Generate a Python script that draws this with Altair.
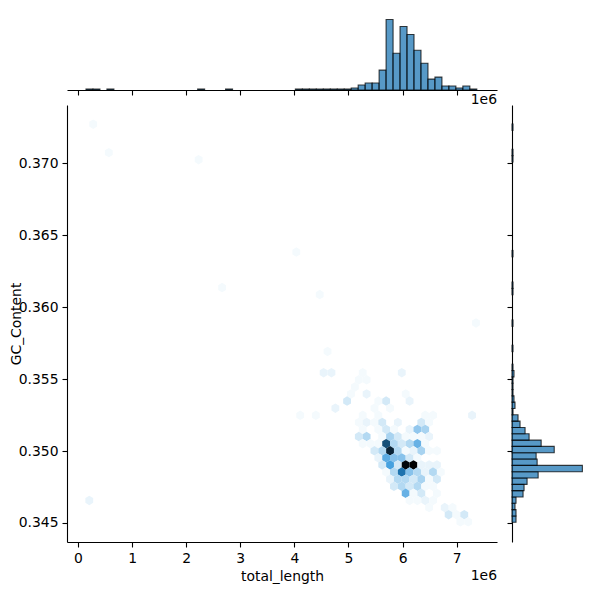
import colorsys
import altair as alt
import pandas as pd

# Hexbin cells: lattice column, lattice row, count
hex_col = [-10,-10.5,-9.5,-5.5,-0.5,-6,-5,-6.5,-7,-5,0,-7.5,-3.5,-2.5,0.5,-9,-4,-2,
           -5.5,-3.5,2.5,3.5,8.5,-6,-5,-4,-3,-1,2,3,
           -5.5,-3.5,-2.5,-1.5,0.5,1.5,2.5,
           -6,-5,-3,-2,-1,0,1,2,3,
           -5.5,-4.5,-3.5,-2.5,-1.5,-0.5,0.5,1.5,2.5,
           -4,-3,-2,-1,0,1,2,3,4,
           -3.5,-2.5,-1.5,-0.5,0.5,1.5,
           -3,-2,-1,0,1,2,3,4,
           -2.5,-1.5,-0.5,0.5,1.5,2.5,3.5,4.5,
           -2,-1,0,1,2,3,4,
           -1.5,-0.5,0.5,1.5,2.5,3.5,
           0,1,2,4,
           0.5,1.5,2.5,3.5,
           3,5,6,
           5.5,6.5,7.5,
           7,8,
           -40,-38,-26.5,-14,-23.5,-11,-40.5,9,-13.5,-11.5]
hex_row = [-16,-13,-13,-13,-13,-12,-12,-11,-10,-10,-10,-9,-9,-9,-9,-8,-8,-8,
           -7,-7,-7,-7,-7,-6,-6,-6,-6,-6,-6,-6,
           -5,-5,-5,-5,-5,-5,-5,
           -4,-4,-4,-4,-4,-4,-4,-4,-4,
           -3,-3,-3,-3,-3,-3,-3,-3,-3,
           -2,-2,-2,-2,-2,-2,-2,-2,-2,
           -1,-1,-1,-1,-1,-1,
           0,0,0,0,0,0,0,0,
           1,1,1,1,1,1,1,1,
           2,2,2,2,2,2,2,
           3,3,3,3,3,3,
           4,4,4,4,
           5,5,5,5,
           6,6,6,
           7,7,7,
           8,8,
           -48,-44,-43,-30,-25,-24,5,-20,-7,-7]
hex_count = [1,2,2,1,2,1,1,1,1,2,1,4,1,4,2,2,1,1,
             1,1,1,1,2,1,2,1,4,2,4,1,
             1,1,4,1,2,10,8,
             4,7,1,8,4,1,1,1,2,
             1,1,1,29,7,4,7,14,1,
             4,7,35,7,1,2,8,1,1,
             2,15,11,11,4,1,
             4,17,4,39,40,2,2,2,
             1,7,24,11,7,2,7,1,
             2,7,7,4,8,1,4,
             4,7,4,7,1,1,
             14,1,4,1,
             1,1,2,1,
             1,2,1,
             4,1,4,
             1,1,
             1,1,1,1,1,1,2,1,1,1]

# Marginal histograms: counts per bin, from the first bin upward
top_counts = [1,1,0,1,0,0,0,0,0,0,0,0,0,0,0,0,1,0,0,0,1,0,0,0,0,0,0,0,0,0,
              1,1,1,1,1,1,1,1,2,5,7,7,20,71,37,64,56,40,27,11,13,4,4,2,4,1]
right_counts = [4,4,3,4,11,12,15,26,70,25,24,42,29,17,13,8,6,1,3,2,1,1,1,2,1,0,0,1,
                0,0,0,1,0,0,0,0,1,1,0,0,0,0,1,0,0,0,0,0,0,0,0,0,0,0,0,0,0,1,1,0,0,0,1]

x_ticks = [0, 1, 2, 3, 4, 5, 6, 7]
y_ticks = [0.345, 0.350, 0.355, 0.360, 0.365, 0.370]

X_DOMAIN = [-0.203, 7.745]
Y_DOMAIN = [0.34368, 0.37403]

# Bin geometry
HEX_X0, HEX_DX, HEX_Y0, HEX_DY = 6.057, 0.1444, 0.34903, 0.000493
TOP_X0, TOP_W = 0.148, 0.129
RIGHT_Y0, RIGHT_W = 0.34505, 0.000439

hexes = pd.DataFrame({
    "x": [HEX_X0 + c * HEX_DX for c in hex_col],
    "y": [HEX_Y0 - r * HEX_DY for r in hex_row],
    "count": hex_count,
})
top_df = pd.DataFrame({
    "a": [TOP_X0 + i * TOP_W for i in range(len(top_counts))],
    "b": [TOP_X0 + (i + 1) * TOP_W for i in range(len(top_counts))],
    "n": top_counts, "zero": 0,
})
top_df = top_df[top_df.n > 0]
right_df = pd.DataFrame({
    "a": [RIGHT_Y0 + i * RIGHT_W for i in range(len(right_counts))],
    "b": [RIGHT_Y0 + (i + 1) * RIGHT_W for i in range(len(right_counts))],
    "n": right_counts, "zero": 0,
})
right_df = right_df[right_df.n > 0]

# Colormap: the hue of C0 with lightness running from 1 to 0
h, l, s = colorsys.rgb_to_hls(0x1f / 255, 0x77 / 255, 0xb4 / 255)
ramp = []
for k in range(12):
    r, g, b = colorsys.hls_to_rgb(h, 1 - k / 11, s)
    ramp.append("#%02x%02x%02x" % (round(r * 255), round(g * 255), round(b * 255)))
ramp_stops = [40 * k / 11 for k in range(12)]

HEX_PATH = "M0,-1L0.826,-0.5L0.826,0.5L0,1L-0.826,0.5L-0.826,-0.5Z"
FONT = "DejaVu Sans"
FS = 13.9
W, H, MT, MR = 430, 437, 75, 75

x_scale = alt.Scale(domain=X_DOMAIN, nice=False, zero=False)
y_scale = alt.Scale(domain=Y_DOMAIN, nice=False, zero=False)
axis_style = dict(grid=False, domainColor="black", domainWidth=1.1, tickColor="black",
                  tickWidth=1.1, tickSize=5, labelColor="black", titleColor="black",
                  labelFont=FONT, labelFontSize=FS, titleFont=FONT, titleFontSize=FS,
                  titleFontWeight="normal", labelPadding=4)

hex_layer = alt.Chart(hexes).mark_point(shape=HEX_PATH, filled=True, size=90, opacity=1, strokeWidth=0).encode(
    x=alt.X("x:Q", scale=x_scale,
            axis=alt.Axis(values=x_ticks, title="total_length", titlePadding=5, format="d", **axis_style)),
    y=alt.Y("y:Q", scale=y_scale,
            axis=alt.Axis(values=y_ticks, title="GC_Content", titlePadding=-5, format=".3f", **axis_style)),
    color=alt.Color("count:Q", scale=alt.Scale(domain=ramp_stops, range=ramp, interpolate="rgb"), legend=None),
)
offset_main = alt.Chart(pd.DataFrame({"t": ["1e6"]})).mark_text(
    align="right", baseline="middle", font=FONT, fontSize=FS, color="black"
).encode(x=alt.value(W), y=alt.value(H + 34), text="t:N")
main = alt.layer(hex_layer, offset_main).properties(width=W, height=H)

top_bars = alt.Chart(top_df).mark_rect(
    color="#1f77b4", opacity=1, fillOpacity=0.75, stroke="black", strokeOpacity=0.75, strokeWidth=1.1
).encode(
    x=alt.X("a:Q", scale=x_scale,
            axis=alt.Axis(values=x_ticks, title=None, labels=False, **axis_style)),
    x2="b:Q",
    y=alt.Y("n:Q", scale=alt.Scale(domain=[0, 75.6], nice=False), axis=None),
    y2="zero:Q",
)
offset_top = alt.Chart(pd.DataFrame({"t": ["1e6"]})).mark_text(
    align="right", baseline="middle", font=FONT, fontSize=FS, color="black"
).encode(x=alt.value(W), y=alt.value(MT + 10), text="t:N")
top = alt.layer(top_bars, offset_top).properties(width=W, height=MT)

right = alt.Chart(right_df).mark_rect(
    color="#1f77b4", opacity=1, fillOpacity=0.75, stroke="black", strokeOpacity=0.75, strokeWidth=1.1
).encode(
    y=alt.Y("a:Q", scale=y_scale,
            axis=alt.Axis(values=y_ticks, title=None, labels=False, **axis_style)),
    y2="b:Q",
    x=alt.X("n:Q", scale=alt.Scale(domain=[0, 74.6], nice=False), axis=None),
    x2="zero:Q",
).properties(width=MR, height=H)

lower = alt.hconcat(main, right, spacing=15, bounds="flush")
chart = alt.vconcat(top, lower, spacing=15, bounds="flush").properties(
    padding={"left": 1, "top": 7, "right": 0, "bottom": 0}
).configure_view(stroke=None).resolve_scale(color="independent")

chart.save("out.html", embed_options={"renderer": "svg", "actions": False})
